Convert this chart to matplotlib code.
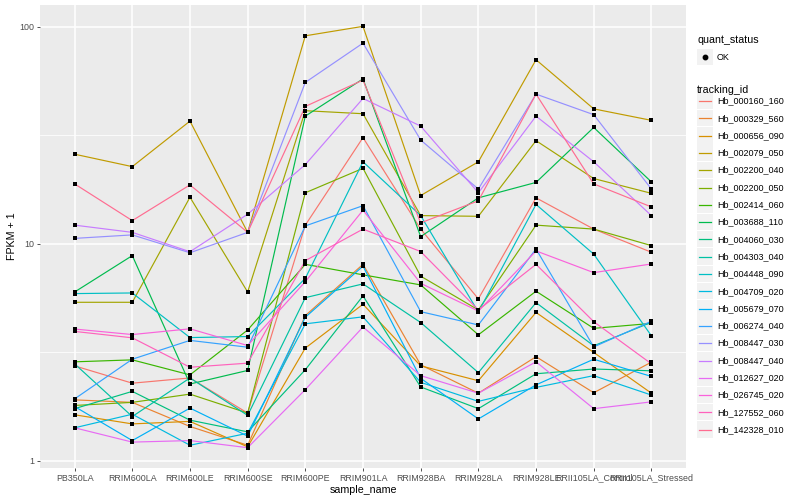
import matplotlib
matplotlib.use('Agg')
import matplotlib.pyplot as plt
from matplotlib.lines import Line2D
from matplotlib.patches import Rectangle
from matplotlib.ticker import FixedLocator, NullFormatter

plt.rcParams['font.family'] = ['Liberation Sans', 'DejaVu Sans']

# samples on the x axis
samples = ['PB350LA', 'RRIM600LA', 'RRIM600LE', 'RRIM600SE', 'RRIM600PE', 'RRIM901LA',
           'RRIM928BA', 'RRIM928LA', 'RRIM928LE', 'RRII105LA_Control', 'RRII105LA_Stressed']

# FPKM + 1 per gene
hb_000160_160 = [2.74, 2.28, 2.41, 1.66, 12.2, 30.9, 11.7, 5.58, 16.3, 11.7, 9.15]
hb_000329_560 = [1.91, 1.86, 1.44, 1.18, 4.67, 8.05, 2.77, 2.05, 3.02, 2.06, 2.85]
hb_000656_090 = [1.63, 1.48, 1.52, 1.16, 3.31, 5.27, 2.74, 2.34, 4.83, 3.16, 2.05]
hb_002079_050 = [25.9, 22.7, 36.8, 11.3, 91.0, 100.6, 16.7, 23.9, 70.6, 41.9, 37.1]
hb_002200_040 = [5.38, 5.38, 16.4, 6.0, 41.1, 39.8, 13.5, 13.4, 29.9, 20.0, 17.1]
hb_002200_050 = [1.80, 1.86, 2.03, 1.66, 17.2, 22.3, 7.1, 4.96, 12.2, 11.7, 9.82]
hb_002414_060 = [2.86, 2.92, 2.49, 4.01, 8.05, 7.2, 6.47, 3.81, 6.05, 4.08, 4.3]
hb_003688_110 = [6.0, 8.83, 2.26, 2.61, 38.8, 57.6, 10.8, 16.3, 19.2, 34.4, 19.3]
hb_004060_030 = [1.74, 2.09, 1.54, 1.36, 2.63, 5.76, 2.19, 1.74, 2.52, 2.65, 2.60]
hb_004303_040 = [2.80, 1.60, 2.41, 1.62, 5.65, 6.54, 4.34, 2.55, 5.36, 3.39, 4.35]
hb_004448_090 = [5.9, 5.94, 3.70, 3.74, 6.94, 23.9, 13.5, 4.85, 15.2, 8.97, 3.77]
hb_004709_020 = [1.42, 1.64, 1.18, 1.34, 4.28, 4.61, 2.30, 1.88, 2.18, 2.47, 2.01]
hb_005679_070 = [1.78, 1.24, 1.75, 1.30, 4.59, 7.9, 2.40, 1.56, 2.24, 2.94, 2.45]
hb_006274_040 = [1.93, 2.94, 3.59, 3.34, 12.1, 15.0, 4.87, 4.23, 9.47, 3.35, 4.4]
hb_008447_030 = [10.6, 11.0, 9.1, 11.3, 55.5, 84.2, 30.1, 17.9, 49.0, 39.4, 17.9]
hb_008447_040 = [12.2, 11.3, 9.2, 13.7, 23.2, 46.8, 34.9, 17.2, 38.8, 23.9, 13.5]
hb_012627_020 = [1.42, 1.22, 1.24, 1.15, 2.13, 4.14, 2.47, 2.05, 2.86, 1.74, 1.87]
hb_026745_020 = [4.05, 3.82, 4.06, 3.40, 6.7, 14.3, 6.58, 4.9, 9.28, 7.37, 8.08]
hb_127552_060 = [3.95, 3.69, 2.70, 2.82, 8.37, 11.7, 9.22, 4.96, 8.05, 4.38, 2.8]
hb_142328_010 = [18.9, 12.8, 18.7, 11.3, 43.0, 56.9, 12.5, 15.8, 49.0, 18.9, 14.8]

ids = ['Hb_000160_160', 'Hb_000329_560', 'Hb_000656_090', 'Hb_002079_050', 'Hb_002200_040',
       'Hb_002200_050', 'Hb_002414_060', 'Hb_003688_110', 'Hb_004060_030', 'Hb_004303_040',
       'Hb_004448_090', 'Hb_004709_020', 'Hb_005679_070', 'Hb_006274_040', 'Hb_008447_030',
       'Hb_008447_040', 'Hb_012627_020', 'Hb_026745_020', 'Hb_127552_060', 'Hb_142328_010']
series = [hb_000160_160, hb_000329_560, hb_000656_090, hb_002079_050, hb_002200_040,
          hb_002200_050, hb_002414_060, hb_003688_110, hb_004060_030, hb_004303_040,
          hb_004448_090, hb_004709_020, hb_005679_070, hb_006274_040, hb_008447_030,
          hb_008447_040, hb_012627_020, hb_026745_020, hb_127552_060, hb_142328_010]

# ggplot default hue palette for 20 groups
colors = ['#F8766D', '#EA8331', '#D89000', '#C09B00', '#A3A500', '#7CAE00', '#39B600',
          '#00BB4E', '#00BF7D', '#00C1A3', '#00BFC4', '#00BAE0', '#00B0F6', '#35A2FF',
          '#9590FF', '#C77CFF', '#E76BF3', '#FA62DB', '#FF62BC', '#FF6C91']

W, H = 800, 500
fig = plt.figure(figsize=(8, 5), dpi=100)
ax = fig.add_axes([40 / W, 1 - 468 / H, (686 - 40) / W, (468 - 5) / H])
ax.set_facecolor('#EBEBEB')
for s in ax.spines.values():
    s.set_visible(False)

x = list(range(len(samples)))
for vals, c in zip(series, colors):
    ax.plot(x, vals, color=c, lw=0.85, zorder=2)
for vals in series:
    ax.scatter(x, vals, s=9, marker='s', color='black', zorder=3, linewidths=0)

ax.set_yscale('log')
ax.set_ylim(10 ** -0.033, 10 ** 2.101)
ax.set_xlim(-0.6, 10.6)
ax.set_yticks([1, 10, 100])
ax.set_yticklabels(['1', '10', '100'])
ax.yaxis.set_minor_locator(FixedLocator([10 ** 0.5, 10 ** 1.5]))
ax.yaxis.set_minor_formatter(NullFormatter())
ax.set_xticks(x)
ax.set_xticklabels(samples)
ax.tick_params(which='minor', length=0)
ax.tick_params(which='major', length=2.5, width=0.6, color='#333333',
               labelsize=6.4, labelcolor='#4D4D4D', pad=1.5)
ax.grid(which='major', color='white', lw=1.1)
ax.grid(which='minor', axis='y', color='white', lw=0.55)
ax.set_axisbelow(True)
ax.set_xlabel('sample_name', fontsize=7.7, labelpad=2)
ax.set_ylabel('FPKM + 1', fontsize=7.7, labelpad=2)


def fx(px):
    return px / W


def fy(py):
    return 1 - py / H


# legend: quant_status
fig.text(fx(697), fy(40), 'quant_status', fontsize=7.7, va='center', ha='left')
fig.patches.append(Rectangle((fx(697), fy(65)), 16 / W, 16 / H, transform=fig.transFigure,
                             facecolor='#F2F2F2', edgecolor='none'))
fig.lines.append(Line2D([fx(705)], [fy(57)], marker='o', ms=3.2, color='black',
                        transform=fig.transFigure))
fig.text(fx(717), fy(57), 'OK', fontsize=6.5, va='center', ha='left')

# legend: tracking_id
fig.text(fx(697), fy(90), 'tracking_id', fontsize=7.7, va='center', ha='left')
for i, (name, c) in enumerate(zip(ids, colors)):
    yc = 101 + i * 17.3
    fig.patches.append(Rectangle((fx(697), fy(yc + 8)), 16 / W, 16.5 / H,
                                 transform=fig.transFigure, facecolor='#F2F2F2', edgecolor='none'))
    fig.lines.append(Line2D([fx(699), fx(711)], [fy(yc), fy(yc)], color=c, lw=0.9,
                            transform=fig.transFigure))
    fig.text(fx(717), fy(yc), name, fontsize=6.5, va='center', ha='left')

fig.savefig('out.png', dpi=100)
